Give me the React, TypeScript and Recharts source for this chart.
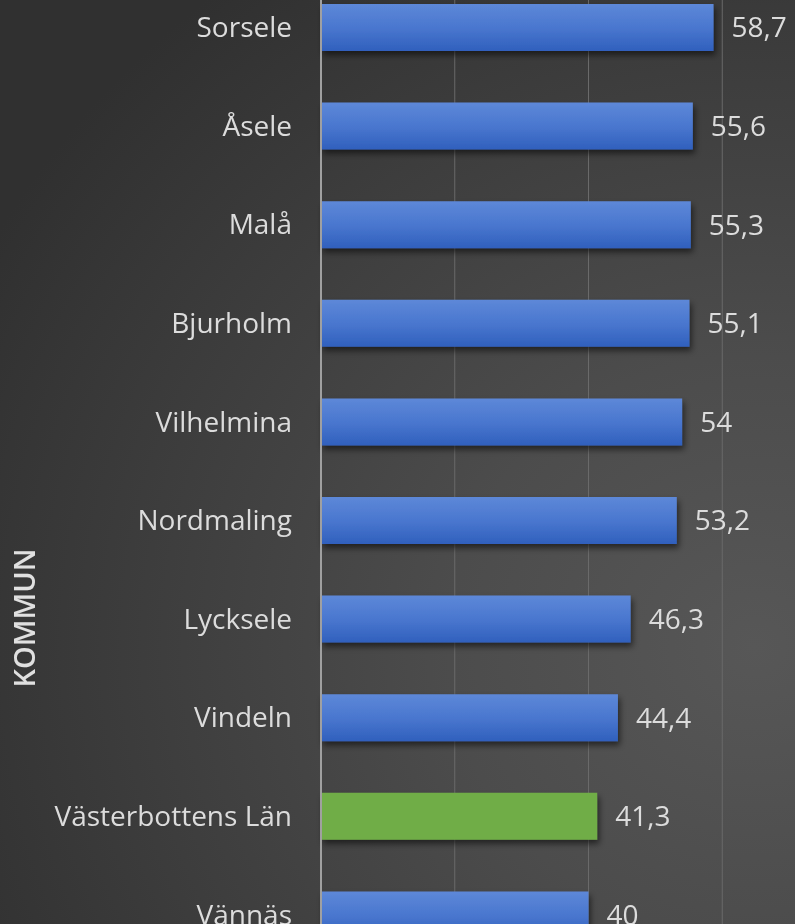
import { BarChart, Bar, XAxis, YAxis, CartesianGrid, Cell, LabelList } from 'recharts';

const kommuner = [
  'Sorsele',
  'Åsele',
  'Malå',
  'Bjurholm',
  'Vilhelmina',
  'Nordmaling',
  'Lycksele',
  'Vindeln',
  'Västerbottens Län',
  'Vännäs',
];
const values = [58.7, 55.6, 55.3, 55.1, 54, 53.2, 46.3, 44.4, 41.3, 40];
const highlight = 'Västerbottens Län';
const xTicks = [0, 20, 40, 60, 80];

const data = kommuner.map((name, i) => ({ name, value: values[i] }));

const font = '"Open Sans", "Noto Sans", sans-serif';

export default function App() {
  return (
    <div
      style={{
        position: 'fixed',
        left: 0,
        top: 0,
        width: 795,
        height: 924,
        overflow: 'hidden',
        background: 'radial-gradient(ellipse 110% 90% at 95% 70%, #575757 0%, #4c4c4c 35%, #3d3d3d 70%, #303030 100%)',
        fontFamily: font,
      }}
    >
      <div
        style={{
          position: 'absolute',
          left: 23,
          top: 618,
          transform: 'translate(-50%, -50%) rotate(-90deg)',
          color: '#e0e0e0',
          fontSize: 29,
          fontWeight: 600,
          whiteSpace: 'nowrap',
        }}
      >
        KOMMUN
      </div>
      <div style={{ position: 'absolute', left: 0, top: -22 }}>
        <BarChart
          width={856}
          height={1016}
          data={data}
          layout="vertical"
          margin={{ top: 0, right: 0, bottom: 0, left: 0 }}
        >
          <defs>
            <linearGradient id="blueBar" x1="0" y1="0" x2="0" y2="1">
              <stop offset="0%" stopColor="#5d88d8" />
              <stop offset="50%" stopColor="#4a77cf" />
              <stop offset="100%" stopColor="#3060bd" />
            </linearGradient>
            <filter id="barShadow" x="-5%" y="-20%" width="115%" height="160%">
              <feDropShadow dx="2" dy="4" stdDeviation="3" floodColor="#000" floodOpacity="0.55" />
            </filter>
          </defs>
          <CartesianGrid horizontal={false} stroke="#6a6a6a" strokeWidth={1} />
          {/* x axis sits below the visible crop; ticks kept only to drive the grid */}
          <XAxis
            type="number"
            domain={[0, 80]}
            ticks={xTicks}
            height={30}
            axisLine={false}
            tickLine={false}
            tick={() => <g />}
          />
          <YAxis
            type="category"
            dataKey="name"
            width={321}
            tickSize={0}
            tickMargin={29}
            axisLine={{ stroke: '#a0a0a0', strokeWidth: 2 }}
            tick={{ fill: '#dcdcdc', fontSize: 28, fontFamily: font }}
            interval={0}
          />
          <Bar
            dataKey="value"
            barSize={47}
            isAnimationActive={false}
            filter="url(#barShadow)"
          >
            {data.map((d) => (
              <Cell key={d.name} fill={d.name === highlight ? '#70ad47' : 'url(#blueBar)'} />
            ))}
            <LabelList
              dataKey="value"
              position="right"
              offset={18}
              fill="#dcdcdc"
              fontSize={28}
              fontFamily={font}
              formatter={(v: number) => String(v).replace('.', ',')}
            />
          </Bar>
        </BarChart>
      </div>
    </div>
  );
}
